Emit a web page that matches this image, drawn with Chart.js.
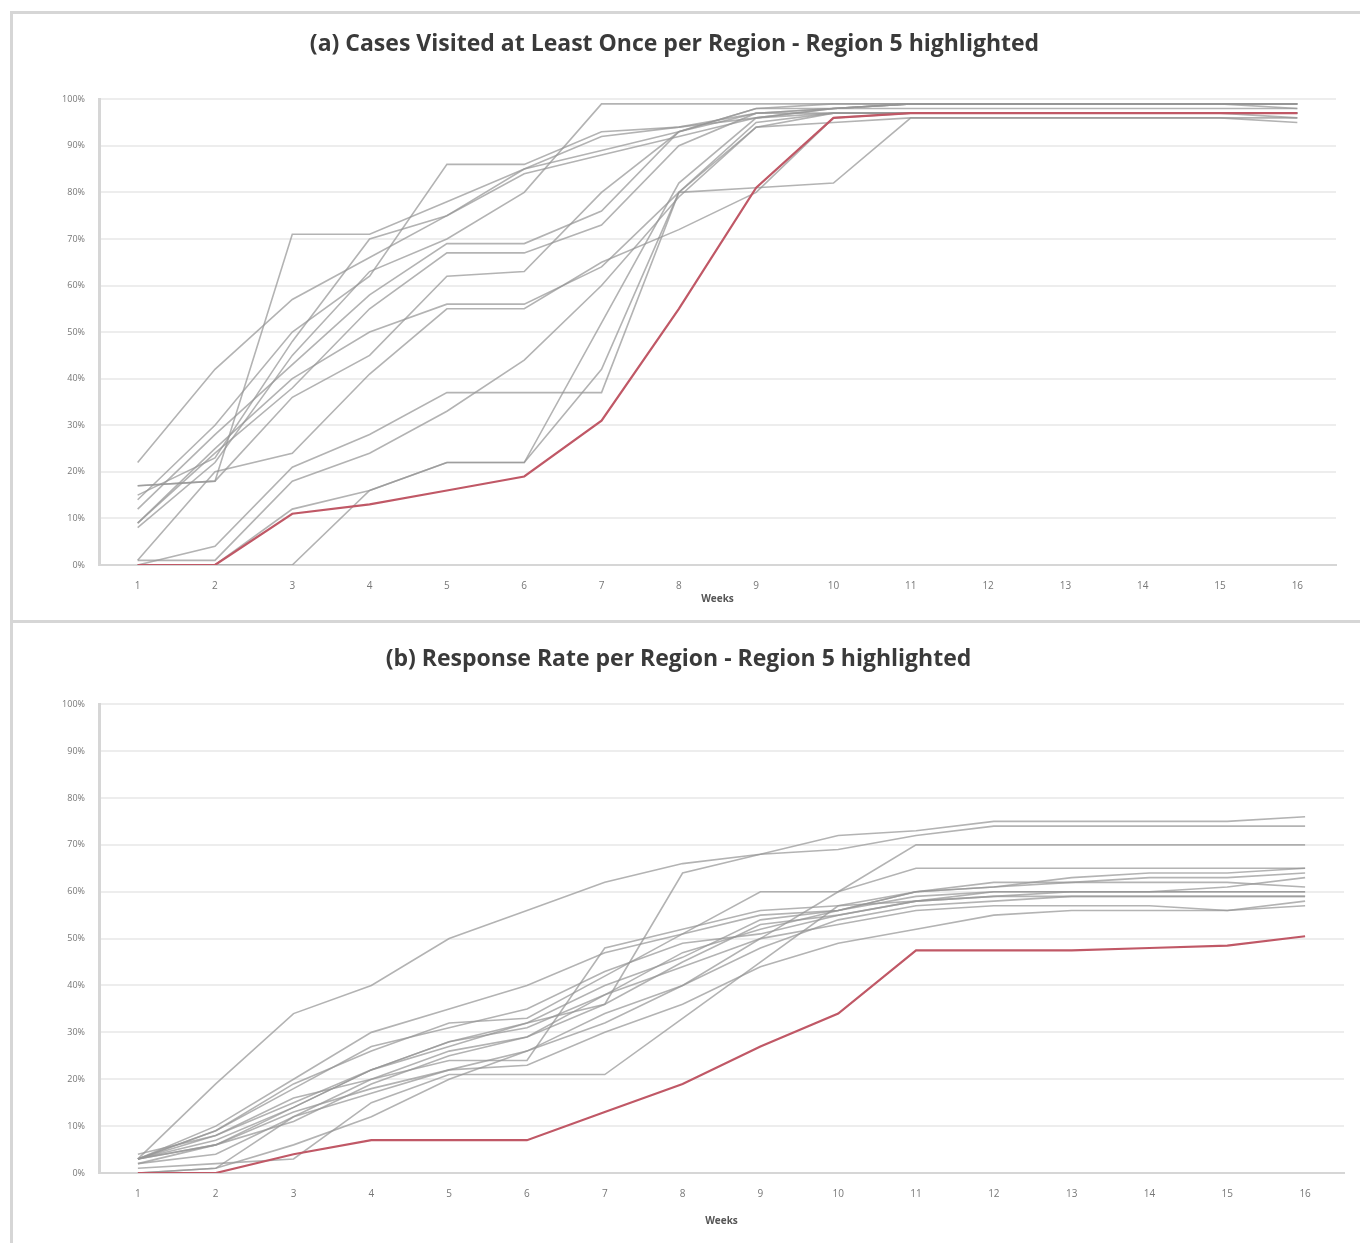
<!DOCTYPE html>
<html>
<head>
<meta charset="utf-8">
<script src="https://cdn.jsdelivr.net/npm/chart.js@4.4.1/dist/chart.umd.min.js"></script>
<style>
  body { margin: 0; background: #fff; width: 1360px; height: 1243px; position: relative; overflow: hidden; }
  .panel { position: absolute; left: 10px; width: 1350px; border-top: 3px solid #d6d6d6; border-left: 3px solid #d6d6d6; box-sizing: border-box; }
  #panelA { top: 11px; height: 610px; }
  #panelB { top: 620px; height: 623px; }
  canvas { display: block; }
</style>
</head>
<body>
<div class="panel" id="panelA"><canvas id="chartA" width="1347" height="607"></canvas></div>
<div class="panel" id="panelB"><canvas id="chartB" width="1347" height="620"></canvas></div>
<script>
const WEEKS = ['1','2','3','4','5','6','7','8','9','10','11','12','13','14','15','16'];
const Y_TICKS = [0, 10, 20, 30, 40, 50, 60, 70, 80, 90, 100];

// (a) cases visited at least once, % per week
const VISITED_REGION5 = [0, 0, 11, 13, 16, 19, 31, 55, 81, 96, 97, 97, 97, 97, 97, 97];
const VISITED_OTHERS = [
  [22, 42, 57, 66, 75, 85, 92, 94, 97, 98, 99, 99, 99, 99, 99, 99],
  [17, 18, 71, 71, 78, 85, 89, 93, 97, 98, 99, 99, 99, 99, 99, 98],
  [14, 30, 50, 62, 86, 86, 93, 94, 96, 98, 98, 98, 98, 98, 98, 98],
  [8, 22, 45, 63, 70, 80, 99, 99, 99, 99, 99, 99, 99, 99, 99, 99],
  [12, 28, 43, 58, 69, 69, 76, 93, 98, 98, 99, 99, 99, 99, 99, 99],
  [9, 24, 38, 55, 67, 67, 73, 90, 97, 97, 97, 97, 97, 97, 97, 97],
  [17, 18, 36, 45, 62, 63, 80, 93, 98, 99, 99, 99, 99, 99, 99, 99],
  [1, 20, 24, 41, 55, 55, 65, 72, 80, 96, 97, 97, 97, 97, 97, 97],
  [0, 4, 21, 28, 37, 37, 37, 80, 94, 97, 97, 97, 97, 97, 97, 97],
  [0, 0, 0, 16, 22, 22, 52, 82, 96, 97, 97, 97, 97, 97, 97, 97],
  [1, 1, 18, 24, 33, 44, 60, 79, 94, 95, 96, 96, 96, 96, 96, 96],
  [0, 0, 12, 16, 22, 22, 42, 80, 81, 82, 96, 96, 96, 96, 96, 95],
  [15, 23, 48, 70, 75, 84, 88, 92, 96, 98, 99, 99, 99, 99, 99, 99],
  [9, 25, 40, 50, 56, 56, 64, 80, 95, 97, 97, 97, 97, 97, 97, 96]
];

// (b) response rate, % per week
const RESPONSE_REGION5 = [0, 0, 4, 7, 7, 7, 13, 19, 27, 34, 47.5, 47.5, 47.5, 48, 48.5, 50.5];
const RESPONSE_OTHERS = [
  [3, 19, 34, 40, 50, 56, 62, 66, 68, 72, 73, 75, 75, 75, 75, 76],
  [3, 10, 20, 30, 35, 40, 47, 51, 55, 56, 60, 61, 63, 64, 64, 65],
  [3, 8, 15, 22, 27, 32, 36, 64, 68, 69, 72, 74, 74, 74, 74, 74],
  [2, 6, 14, 22, 28, 31, 38, 44, 50, 60, 70, 70, 70, 70, 70, 70],
  [3, 9, 19, 26, 32, 33, 42, 51, 60, 60, 65, 65, 65, 65, 65, 65],
  [3, 7, 14, 22, 28, 32, 40, 46, 54, 56, 59, 60, 60, 60, 60, 60],
  [4, 8, 16, 20, 24, 24, 48, 52, 56, 57, 58, 59, 59, 59, 59, 59],
  [3, 6, 13, 18, 22, 23, 30, 36, 44, 49, 52, 55, 56, 56, 56, 58],
  [1, 2, 3, 15, 21, 21, 21, 33, 45, 57, 60, 61, 62, 62, 62, 61],
  [0, 1, 12, 17, 22, 26, 34, 40, 48, 54, 57, 58, 59, 59, 59, 59],
  [3, 6, 11, 19, 25, 29, 36, 45, 53, 55, 58, 59, 60, 60, 61, 63],
  [3, 9, 18, 27, 31, 35, 43, 49, 51, 55, 58, 60, 60, 60, 60, 60],
  [2, 4, 12, 20, 26, 29, 38, 47, 52, 56, 60, 62, 62, 63, 63, 64],
  [0, 1, 6, 12, 20, 26, 32, 40, 50, 53, 56, 57, 57, 57, 56, 57]
];

const GRAY = 'rgba(150,150,150,0.72)';
const RED  = '#c05866';
const FONT = '"Liberation Sans Narrow", "Open Sans", sans-serif';

function buildDatasets(highlight, others) {
  const sets = others.map((d, i) => ({
    label: 'Region ' + (i + 1),
    data: d,
    borderColor: GRAY,
    borderWidth: 1.6,
    pointRadius: 0,
    tension: 0,
    order: 1,
  }));
  sets.push({
    label: 'Region 5',
    data: highlight,
    borderColor: RED,
    borderWidth: 2.2,
    pointRadius: 0,
    tension: 0,
    order: 0,
  });
  return sets;
}

function makeChart(id, title, highlight, others, pad) {
  new Chart(document.getElementById(id), {
    type: 'line',
    data: { labels: WEEKS, datasets: buildDatasets(highlight, others) },
    options: {
      responsive: false,
      animation: false,
      layout: { padding: { left: 0, right: pad.right, top: 0, bottom: pad.bottom } },
      plugins: {
        legend: { display: false },
        tooltip: { enabled: false },
        title: {
          display: true,
          text: title,
          color: '#3a3a3a',
          font: { family: FONT, size: 23, weight: 'bold' },
          padding: { top: pad.titleTop, bottom: pad.titleBottom },
        },
      },
      scales: {
        x: {
          offset: true,
          grid: { display: false, drawTicks: false },
          border: { color: '#d6d6d6', width: 2 },
          ticks: { color: '#777', font: { family: FONT, size: 10 }, padding: 15, maxRotation: 0 },
          title: { display: true, text: 'Weeks', color: '#555', font: { family: FONT, size: 10, weight: 'bold' }, padding: { top: 2, bottom: 4 } },
          afterFit: s => { s.height = pad.xHeight; },
        },
        y: {
          min: 0,
          max: 100,
          afterBuildTicks: s => { s.ticks = Y_TICKS.map(v => ({ value: v })); },
          grid: { color: '#ededed', lineWidth: 2, drawTicks: false },
          border: { color: '#d6d6d6', width: 3 },
          ticks: { color: '#777', font: { family: FONT, size: 9 }, padding: 14, callback: v => v + '%' },
          afterFit: s => { s.width = 86; },
        },
      },
    },
  });
}

makeChart('chartA', '(a) Cases Visited at Least Once per Region - Region 5 highlighted',
  VISITED_REGION5, VISITED_OTHERS,
  { right: 24, bottom: 12, titleTop: 17, titleBottom: 40.6, xHeight: 44 });

makeChart('chartB', '(b) Response Rate per Region - Region 5 highlighted',
  RESPONSE_REGION5, RESPONSE_OTHERS,
  { right: 16, bottom: 12, titleTop: 23, titleBottom: 30.6, xHeight: 58 });
</script>
</body>
</html>
